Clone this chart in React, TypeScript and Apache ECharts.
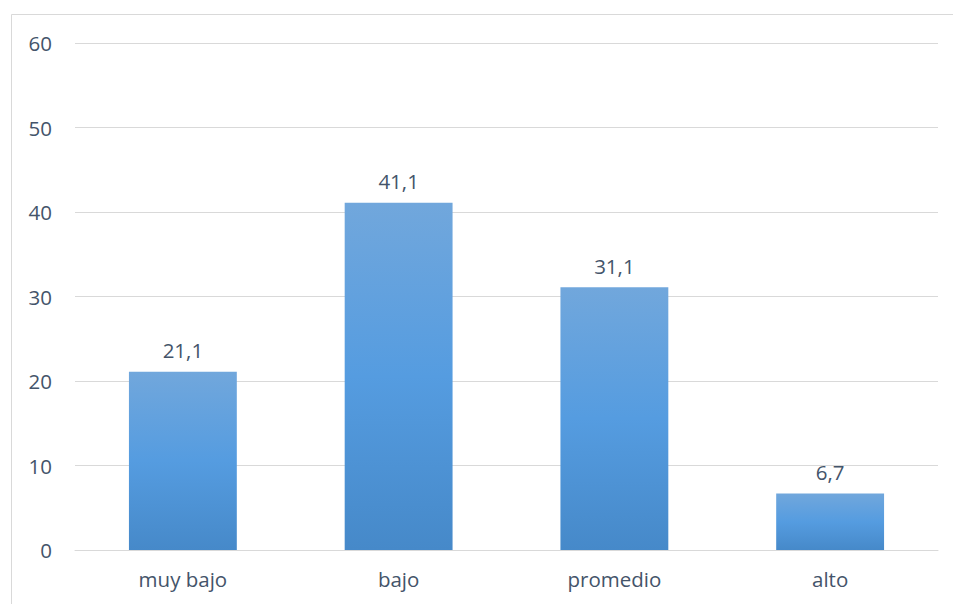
import React, { useEffect, useRef } from "react";
import * as echarts from "echarts";

const categories = ["muy bajo", "bajo", "promedio", "alto"];
const values = [21.1, 41.1, 31.1, 6.7];
const yTicks = [0, 10, 20, 30, 40, 50, 60];

const FONT = "'Open Sans', Lato, sans-serif";
const TEXT = "#44546a";

export default function App() {
  const ref = useRef<HTMLDivElement>(null);
  useEffect(() => {
    if (!ref.current) return;
    const chart = echarts.init(ref.current, undefined, { renderer: "svg" });
    chart.setOption({
      animation: false,
      backgroundColor: "#ffffff",
      graphic: [
        {
          type: "rect",
          shape: { x: 11.5, y: 14.5, width: 1000, height: 1000 },
          style: { fill: "none", stroke: "#d9d9d9", lineWidth: 1 },
          silent: true,
        },
      ],
      grid: { left: 75, right: 15, top: 43, bottom: 54, containLabel: false },
      xAxis: {
        type: "category",
        data: categories,
        axisTick: { show: false },
        axisLine: { show: true, lineStyle: { color: "#d9d9d9", width: 1 } },
        axisLabel: { color: TEXT, fontFamily: FONT, fontSize: 20.5, margin: 18 },
      },
      yAxis: {
        type: "value",
        min: yTicks[0],
        max: yTicks[yTicks.length - 1],
        interval: 10,
        axisLine: { show: false },
        axisTick: { show: false },
        splitLine: { lineStyle: { color: "#d9d9d9", width: 1 } },
        axisLabel: { color: TEXT, fontFamily: FONT, fontSize: 20.5, margin: 23 },
      },
      series: [
        {
          type: "bar",
          data: values,
          barWidth: "50%",
          itemStyle: {
            color: new echarts.graphic.LinearGradient(0, 0, 0, 1, [
              { offset: 0, color: "#71a7dc" },
              { offset: 0.5, color: "#559ce0" },
              { offset: 1, color: "#4689c9" },
            ]),
          },
          label: {
            show: true,
            position: "top",
            distance: 11,
            color: TEXT,
            fontFamily: FONT,
            fontSize: 20.5,
            formatter: (p: any) => String(p.value).replace(".", ","),
          },
        },
      ],
    });
    return () => chart.dispose();
  }, []);
  return (
    <div
      ref={ref}
      style={{ position: "absolute", left: 0, top: 0, width: 953, height: 604 }}
    />
  );
}
